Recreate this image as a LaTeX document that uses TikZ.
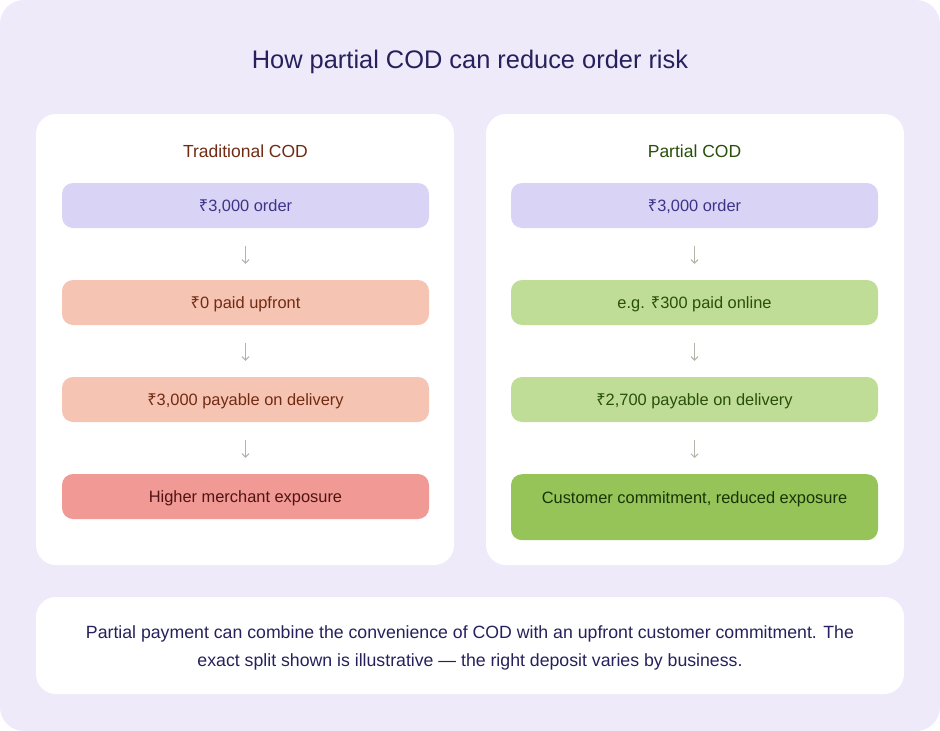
\documentclass[tikz,border=0pt]{standalone}
\usepackage{fontspec}
\setmainfont{Liberation Sans}
\newfontfamily\rupfont{Noto Sans}
\newcommand\rs{{\rupfont ₹}}
\usetikzlibrary{arrows.meta}
\definecolor{bgc}{HTML}{EEEAFA}
\definecolor{navy}{HTML}{26215C}
\definecolor{lavfill}{HTML}{D9D4F5}
\definecolor{lavtext}{HTML}{3C3489}
\definecolor{peach}{HTML}{F5C4B3}
\definecolor{brown}{HTML}{712B13}
\definecolor{redfill}{HTML}{F09995}
\definecolor{redtext}{HTML}{501313}
\definecolor{lgreen}{HTML}{C0DD97}
\definecolor{gtext}{HTML}{27500A}
\definecolor{dgreen}{HTML}{97C459}
\definecolor{dgtext}{HTML}{173404}
\definecolor{arrowc}{HTML}{B4B2A9}
\tikzset{
  panel/.style={fill=white, rounded corners=20pt, minimum width=418pt, minimum height=451pt, inner sep=0pt},
  stepbox/.style={rounded corners=11pt, minimum width=367pt, minimum height=45pt, inner sep=0pt, text height=12.5pt, text depth=0pt, font=\fontsize{16.4}{19}\selectfont},
  ptitle/.style={font=\fontsize{17.5}{20}\selectfont},
  flow/.style={draw=arrowc, line width=1pt, -{Straight Barb[length=3.5pt,width=7pt]}},
}
\begin{document}
\begin{tikzpicture}[x=1pt,y=-1pt]
\useasboundingbox (0,0) rectangle (940,731);
\fill[white] (0,0) rectangle (940,731);
\fill[bgc, rounded corners=24pt] (0,0) rectangle (940,731);

\node[font=\fontsize{25.4}{30}\selectfont, text=navy] (title) at (470,62) {How partial COD can reduce order risk};

% panels
\node[panel] (lp) at (245,339.5) {};
\node[panel] (rp) at (695,339.5) {};

\node[ptitle, text=brown] (lt) at (245.5,151) {Traditional COD};
\node[ptitle, text=gtext] (rt) at (694.5,151) {Partial COD};

% left column
\node[stepbox, fill=lavfill, text=lavtext] (l1) at (245.5,205.5) {\rs3,000 order};
\node[stepbox, fill=peach, text=brown] (l2) at (245.5,302.5) {\rs0 paid upfront};
\node[stepbox, fill=peach, text=brown] (l3) at (245.5,399.5) {\rs3,000 payable on delivery};
\node[stepbox, fill=redfill, text=redtext] (l4) at (245.5,496.5) {Higher merchant exposure};

% right column
\node[stepbox, fill=lavfill, text=lavtext] (r1) at (694.5,205.5) {\rs3,000 order};
\node[stepbox, fill=lgreen, text=gtext] (r2) at (694.5,302.5) {e.g. \rs300 paid online};
\node[stepbox, fill=lgreen, text=gtext] (r3) at (694.5,399.5) {\rs2,700 payable on delivery};
\node[stepbox, fill=dgreen, text=dgtext, anchor=north, minimum height=0pt, text height=29pt, text depth=37pt] (r4) at (694.5,474) {Customer commitment, reduced exposure};

% arrows
\foreach \a/\b in {l1/l2,l2/l3,l3/l4,r1/r2,r2/r3,r3/r4}{
  \draw[flow] ([yshift=-18pt]\a.south) -- ([yshift=16pt]\b.north);
}

% note
\node[fill=white, rounded corners=20pt, minimum width=868pt, minimum height=97pt, inner sep=0pt] (note) at (470,645.5) {};
\node[align=center, text=navy, font=\fontsize{17.7}{28}\selectfont] (notetext) at (470,648) {Partial payment can combine the convenience of COD with an upfront customer commitment. The\\exact split shown is illustrative — the right deposit varies by business.};
\end{tikzpicture}
\end{document}
